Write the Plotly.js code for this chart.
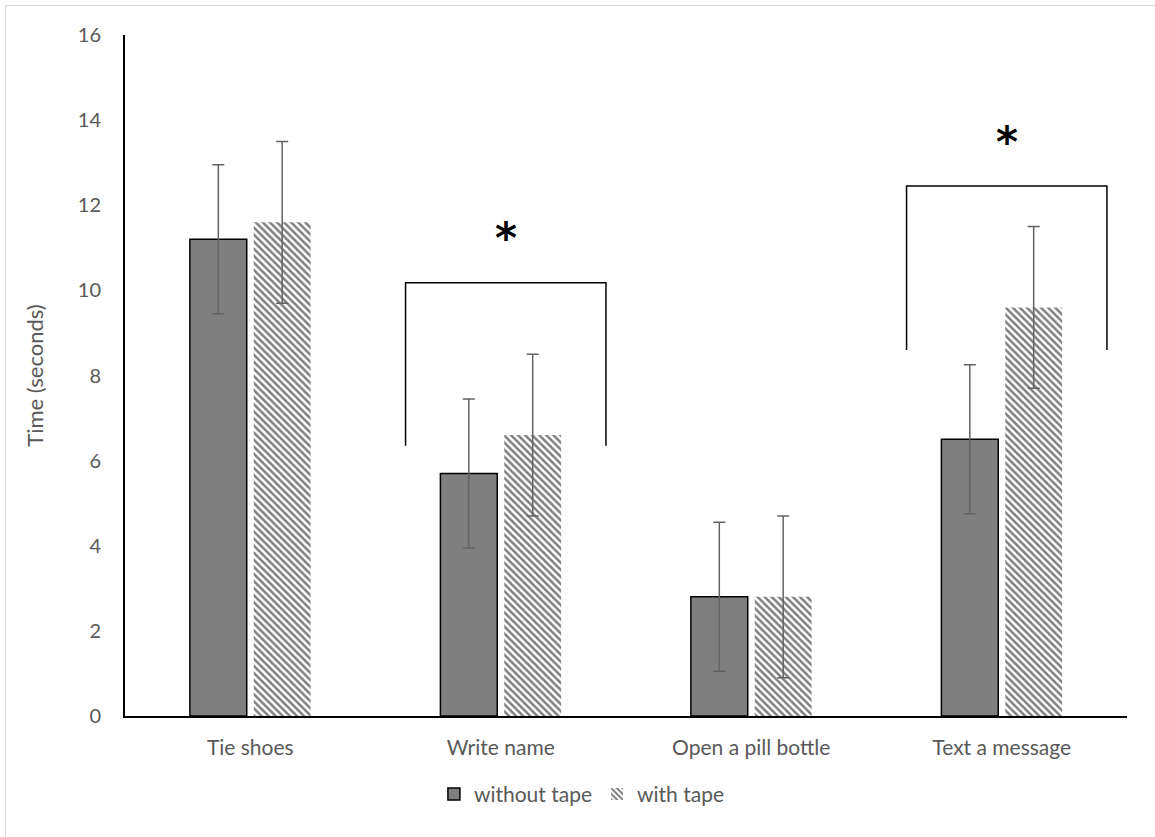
<!DOCTYPE html>
<html>
<head>
<meta charset="utf-8">
<script src="https://cdn.plot.ly/plotly-3.0.1.min.js"></script>
<style>
  html, body { margin: 0; padding: 0; background: #fff; }
  #wrap { position: relative; width: 1155px; height: 837px; }
  #chart { width: 1155px; height: 837px; }
  #frame { position: absolute; left: 5px; top: 5px; width: 1160px; height: 850px;
           border-left: 1px solid #d9d9d9; border-top: 1px solid #d9d9d9; pointer-events: none; }
</style>
</head>
<body>
<div id="wrap"><div id="chart"></div><div id="frame"></div></div>
<script>
const categories = ["Tie shoes", "Write name", "Open a pill bottle", "Text a message"];
const withoutTape = [11.2, 5.7, 2.8, 6.5];
const withoutTapeErr = [1.75, 1.75, 1.75, 1.75];
const withTape = [11.6, 6.6, 2.8, 9.6];
const withTapeErr = [1.9, 1.9, 1.9, 1.9];

// significance brackets: [left x, right x, top y, bottom y] in category-index units
const bracketWrite = [0.62, 1.42, 10.18, 6.35];
const bracketText = [2.62, 3.42, 12.45, 8.6];
const brackets = [bracketWrite, bracketText];

const font = "Lato, 'Open Sans', 'DejaVu Sans', sans-serif";
const textColor = "#595959";

const traces = [
  {
    type: "bar", name: "without tape", x: categories, y: withoutTape,
    marker: { color: "#7f7f7f", line: { color: "#000000", width: 1.5 } },
    error_y: { type: "data", array: withoutTapeErr, visible: true, color: "#636363", thickness: 1.5, width: 6 }
  },
  {
    type: "bar", name: "with tape", x: categories, y: withTape,
    marker: { color: "#ffffff", line: { width: 0 },
      pattern: { shape: "\\", fgcolor: "#7f7f7f", bgcolor: "#ffffff", size: 5, solidity: 0.5, fillmode: "replace" } },
    error_y: { type: "data", array: withTapeErr, visible: true, color: "#636363", thickness: 1.5, width: 6 }
  }
];

const shapes = [];
const annotations = [];
brackets.forEach(b => {
  shapes.push({
    type: "path", xref: "x", yref: "y",
    path: `M ${b[0]} ${b[3]} L ${b[0]} ${b[2]} L ${b[1]} ${b[2]} L ${b[1]} ${b[3]}`,
    line: { color: "#000000", width: 1.5 }
  });
  annotations.push({
    x: (b[0] + b[1]) / 2, y: b[2], xref: "x", yref: "y", yshift: 44,
    text: "<b>*</b>", showarrow: false,
    font: { family: "'DejaVu Sans', sans-serif", size: 42, color: "#000000" }
  });
});

const layout = {
  width: 1155, height: 837,
  margin: { l: 125, r: 28, t: 35, b: 121 },
  paper_bgcolor: "#ffffff", plot_bgcolor: "#ffffff",
  font: { family: font, color: textColor, size: 20 },
  barmode: "group", bargap: 0.49, bargroupgap: 0.11,
  showlegend: true,
  legend: { orientation: "h", x: 0.456, xanchor: "center", y: -0.115, yanchor: "middle",
            font: { family: font, size: 21, color: textColor }, traceorder: "normal" },
  xaxis: {
    type: "category", showline: true, linecolor: "#000000", linewidth: 2,
    ticks: "", showgrid: false, zeroline: false, ticklabelstandoff: 12,
    tickfont: { family: font, size: 21, color: textColor }
  },
  yaxis: {
    range: [0, 16], dtick: 2, showline: true, linecolor: "#000000", linewidth: 2,
    ticks: "", showgrid: false, zeroline: false, ticklabelstandoff: 18,
    tickfont: { family: font, size: 20, color: textColor },
    title: { text: "Time (seconds)", font: { family: font, size: 22, color: textColor }, standoff: 28 }
  },
  shapes: shapes,
  annotations: annotations
};

Plotly.newPlot("chart", traces, layout, { displayModeBar: false, staticPlot: true });
</script>
</body>
</html>
